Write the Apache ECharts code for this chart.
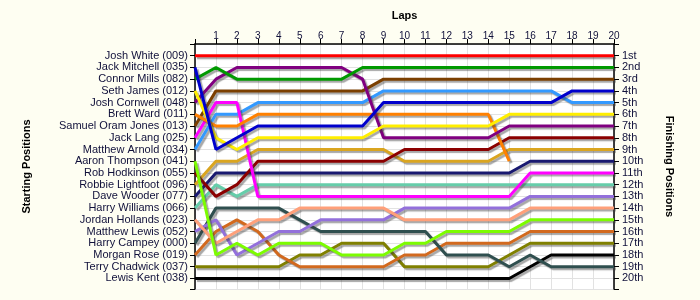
<!DOCTYPE html>
<html>
<head>
<meta charset="utf-8">
<script src="https://cdn.jsdelivr.net/npm/echarts@6/dist/echarts.min.js"></script>
<style>
html,body{margin:0;padding:0;background:#fefef2;}
#chart{width:700px;height:300px;}
</style>
</head>
<body>
<div id="chart"></div>
<script>
const laps = [0,1,2,3,4,5,6,7,8,9,10,11,12,13,14,15,16,17,18,19,20];
const lapLabels = ['','1','2','3','4','5','6','7','8','9','10','11','12','13','14','15','16','17','18','19','20'];
const drivers = ['Josh White (009)','Jack Mitchell (035)','Connor Mills (082)','Seth James (012)','Josh Cornwell (048)','Brett Ward (011)','Samuel Oram Jones (013)','Jack Lang (025)','Matthew Arnold (034)','Aaron Thompson (041)','Rob Hodkinson (055)','Robbie Lightfoot (096)','Dave Wooder (077)','Harry Williams (066)','Jordan Hollands (023)','Matthew Lewis (052)','Harry Campey (000)','Morgan Rose (019)','Terry Chadwick (037)','Lewis Kent (038)'];
const finishLabels = ['1st','2nd','3rd','4th','5th','6th','7th','8th','9th','10th','11th','12th','13th','14th','15th','16th','17th','18th','19th','20th'];
const colors = ['#ff0000','#0000cc','#009900','#ffee00','#800080','#ff8000','#7b3f00','#ff00ff','#3399ff','#7cfc00','#8b0000','#daa520','#191970','#66cdaa','#ffa07a','#9370db','#2f4f4f','#d2691e','#808000','#000000'];

const pJoshWhite      = [1,1,1,1,1,1,1,1,1,1,1,1,1,1,1,1,1,1,1,1,1];
const pJackMitchell   = [2,9,8,7,7,7,7,7,7,5,5,5,5,5,5,5,5,5,4,4,4];
const pConnorMills    = [3,2,3,3,3,3,3,3,2,2,2,2,2,2,2,2,2,2,2,2,2];
const pSethJames      = [4,8,9,8,8,8,8,8,8,7,7,7,7,7,7,6,6,6,6,6,6];
const pJoshCornwell   = [5,3,2,2,2,2,2,2,3,8,8,8,8,8,8,7,7,7,7,7,7];
const pBrettWard      = [6,7,7,6,6,6,6,6,6,6,6,6,6,6,6,10];
const pSamuelOram     = [7,4,4,4,4,4,4,4,4,3,3,3,3,3,3,3,3,3,3,3,3];
const pJackLang       = [8,5,5,13,13,13,13,13,13,13,13,13,13,13,13,13,11,11,11,11,11];
const pMatthewArnold  = [9,6,6,5,5,5,5,5,5,4,4,4,4,4,4,4,4,4,5,5,5];
const pAaronThompson  = [10,18,17,18,17,17,17,18,18,18,17,17,16,16,16,16,15,15,15,15,15];
const pRobHodkinson   = [11,13,12,10,10,10,10,10,10,10,9,9,9,9,9,8,8,8,8,8,8];
const pRobbieLightfoot= [12,10,10,9,9,9,9,9,9,9,10,10,10,10,10,9,9,9,9,9,9];
const pDaveWooder     = [13,11,11,11,11,11,11,11,11,11,11,11,11,11,11,11,10,10,10,10,10];
const pHarryWilliams  = [14,12,13,12,12,12,12,12,12,12,12,12,12,12,12,12,12,12,12,12,12];
const pJordanHollands = [15,17,16,15,15,14,14,14,14,14,15,15,15,15,15,15,14,14,14,14,14];
const pMatthewLewis   = [16,15,18,17,16,16,15,15,15,15,14,14,14,14,14,14,13,13,13,13,13];
const pHarryCampey    = [17,14,14,14,14,15,16,16,16,16,16,16,18,18,18,19,18,19,19,19,19];
const pMorganRose     = [18,16,15,16,18,19,19,19,19,19,18,18,17,17,17,17,16,16,16,16,16];
const pTerryChadwick  = [19,19,19,19,19,18,18,17,17,17,19,19,19,19,19,18,17,17,17,17,17];
const pLewisKent      = [20,20,20,20,20,20,20,20,20,20,20,20,20,20,20,20,19,18,18,18,18];

const positions = [pJoshWhite,pJackMitchell,pConnorMills,pSethJames,pJoshCornwell,pBrettWard,pSamuelOram,pJackLang,pMatthewArnold,pAaronThompson,pRobHodkinson,pRobbieLightfoot,pDaveWooder,pHarryWilliams,pJordanHollands,pMatthewLewis,pHarryCampey,pMorganRose,pTerryChadwick,pLewisKent];

const textColor = '#10103a';
const font = 'Liberation Sans, Arial, sans-serif';

const series = drivers.map((d, i) => ({
  name: d,
  type: 'line',
  yAxisIndex: 0,
  showSymbol: false,
  symbol: 'none',
  animation: false,
  data: positions[i].map((p, k) => [laps[k], p]),
  lineStyle: {
    color: colors[i], width: 3,
    shadowColor: 'rgba(60,60,60,0.45)', shadowBlur: 1, shadowOffsetX: 2, shadowOffsetY: 2
  },
  z: 2 + (20 - i) * 0.01
}));

const chart = echarts.init(document.getElementById('chart'));
chart.setOption({
  backgroundColor: '#fefef2',
  animation: false,
  grid: { left: 195, right: 86, top: 44, bottom: 11, show: true, backgroundColor: '#ffffff', borderWidth: 0 },
  xAxis: {
    type: 'value', position: 'top', min: 0, max: 20, interval: 1,
    name: 'Laps', nameLocation: 'middle', nameGap: 23,
    nameTextStyle: { fontFamily: font, fontSize: 11, fontWeight: 'bold', color: '#000' },
    axisLine: { show: true, lineStyle: { color: '#000', width: 1.5 } },
    axisTick: { show: true, inside: false, length: 5, lineStyle: { color: '#000' } },
    axisLabel: { margin: 3, fontFamily: font, fontSize: 10, color: textColor,
      formatter: v => lapLabels[v] !== undefined ? lapLabels[v] : '' },
    splitLine: { show: true, lineStyle: { color: '#e2e2e2', width: 1 } }
  },
  yAxis: [
    {
      type: 'value', inverse: true, min: 0, max: 20.9, interval: 1, position: 'left',
      name: 'Starting Positions', nameLocation: 'middle', nameGap: 163, nameRotate: 90,
      nameTextStyle: { fontFamily: font, fontSize: 11, fontWeight: 'bold', color: '#000' },
      axisLine: { show: true, lineStyle: { color: '#000', width: 1.5 } },
      axisTick: { show: true, length: 5, lineStyle: { color: '#000' } },
      axisLabel: { margin: 7, fontFamily: font, fontSize: 11, color: textColor,
        formatter: v => (Number.isInteger(v) && v >= 1 && v <= 20) ? drivers[v - 1] : '' },
      splitLine: { show: true, lineStyle: { color: '#e2e2e2', width: 1 } }
    },
    {
      type: 'value', inverse: true, min: 0, max: 20.9, interval: 1, position: 'right',
      name: 'Finishing Positions', nameLocation: 'middle', nameGap: 50, nameRotate: -90,
      nameTextStyle: { fontFamily: font, fontSize: 11, fontWeight: 'bold', color: '#000' },
      axisLine: { show: true, lineStyle: { color: '#000', width: 1.5 } },
      axisTick: { show: true, length: 5, lineStyle: { color: '#000' } },
      axisLabel: { margin: 8, fontFamily: font, fontSize: 11, color: textColor,
        formatter: v => (Number.isInteger(v) && v >= 1 && v <= 20) ? finishLabels[v - 1] : '' },
      splitLine: { show: false }
    }
  ],
  series: series
});
</script>
</body>
</html>
